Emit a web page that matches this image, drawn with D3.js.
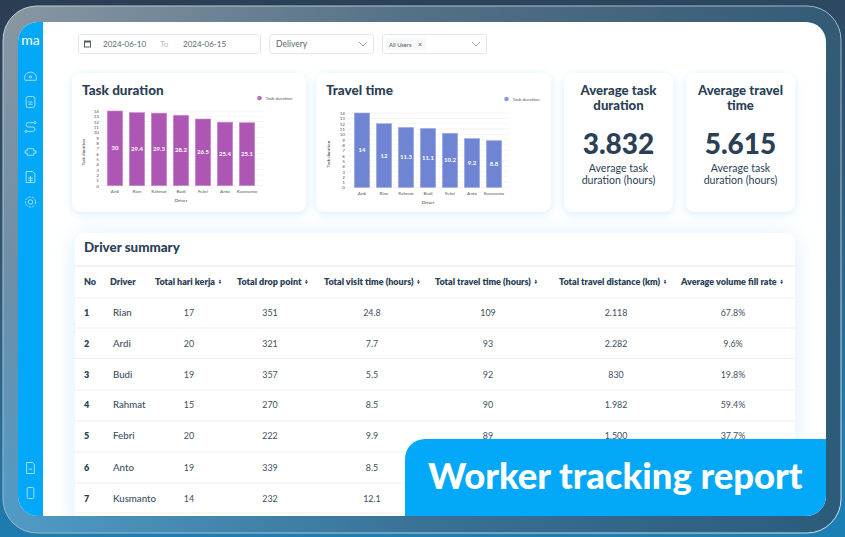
<!DOCTYPE html>
<html>
<head>
<meta charset="utf-8">
<script src="https://cdn.jsdelivr.net/npm/d3@7"></script>
<style>
html, body { margin: 0; padding: 0; background: #2b4a63; overflow: hidden; }
svg { display: block; }
text { font-family: "Lato", "Noto Sans", sans-serif; }
.axis path, .axis line { display: none; }
</style>
</head>
<body>
<svg id="main" width="845" height="537"></svg>
<script>
// Chart data
var drivers = ["Ardi", "Rian", "Rahmat", "Budi", "Febri", "Anto", "Kusmanto"];
var taskHeights = [14, 13.7, 13.6, 13.2, 12.5, 11.9, 11.8];
var taskLabels = ["30", "29.4", "29.3", "28.2", "26.5", "25.4", "25.1"];
var travelHeights = [14, 12, 11.3, 11.1, 10.2, 9.2, 8.8];
var travelLabels = ["14", "12", "11.3", "11.1", "10.2", "9.2", "8.8"];
var yTicks = [0, 1, 2, 3, 4, 5, 6, 7, 8, 9, 10, 11, 12, 13, 14];

// Table data
var tableHeaders = ["No", "Driver", "Total hari kerja", "Total drop point", "Total visit time (hours)", "Total travel time (hours)", "Total travel distance (km)", "Average volume fill rate"];
var rowNames = ["Rian", "Ardi", "Budi", "Rahmat", "Febri", "Anto", "Kusmanto"];
var rowDays = ["17", "20", "19", "15", "20", "19", "14"];
var rowDrops = ["351", "321", "357", "270", "222", "339", "232"];
var rowVisit = ["24.8", "7.7", "5.5", "8.5", "9.9", "8.5", "12.1"];
var rowTravel = ["109", "93", "92", "90", "89", "", ""];
var rowDistance = ["2.118", "2.282", "830", "1.982", "1.500", "", ""];
var rowFill = ["67.8%", "9.6%", "19.8%", "59.4%", "37.7%", "", ""];

var ink = "#2b3f55";
var svg = d3.select("#main");
var defs = svg.append("defs");

function gradient(id, x1, y1, x2, y2, stops) {
    var g = defs.append("linearGradient").attr("id", id)
        .attr("x1", x1).attr("y1", y1).attr("x2", x2).attr("y2", y2);
    stops.forEach(function(s) {
        g.append("stop").attr("offset", s[0]).attr("stop-color", s[1]).attr("stop-opacity", s[2] === undefined ? 1 : s[2]);
    });
}
gradient("bg", 0, 0, 0.2, 1, [[0, "#2a3d53"], [0.5, "#2e5a78"], [1, "#1c7fb4"]]);
gradient("frameLeft", 0, 0, 0, 1, [[0, "#8a97a3"], [0.5, "#6f8fa8"], [1, "#4f9cc8"]]);
gradient("frameRight", 0, 0, 1, 0, [[0, "#1f4f70", 0], [0.5, "#264f6c", 0.55], [1, "#24506e", 0.85]]);
gradient("frameLine", 0, 0, 1, 1, [[0, "#c4ccd2"], [0.5, "#9db4c4"], [1, "#d5dfe6"]]);

function glow(id, sd) {
    var f = defs.append("filter").attr("id", id)
        .attr("x", "-15%").attr("y", "-15%").attr("width", "130%").attr("height", "130%");
    f.append("feDropShadow").attr("dx", 0).attr("dy", 2).attr("stdDeviation", sd)
        .attr("flood-color", "#cfeaff").attr("flood-opacity", 0.8);
}
glow("glow", 5);
glow("glowWide", 11);

defs.append("clipPath").attr("id", "panelClip").append("rect")
    .attr("x", 18).attr("y", 22).attr("width", 808).attr("height", 494).attr("rx", 20);

// Background and frame
svg.append("rect").attr("width", 845).attr("height", 537).attr("fill", "url(#bg)");
svg.append("rect").attr("x", 3).attr("y", 6).attr("width", 838).attr("height", 527).attr("rx", 34)
    .attr("fill", "url(#frameLeft)");
svg.append("rect").attr("x", 3).attr("y", 6).attr("width", 838).attr("height", 527).attr("rx", 34)
    .attr("fill", "url(#frameRight)").attr("stroke", "url(#frameLine)").attr("stroke-width", 1);

// Panel
var panel = svg.append("g").attr("clip-path", "url(#panelClip)");
panel.append("rect").attr("x", 18).attr("y", 22).attr("width", 808).attr("height", 494).attr("fill", "#fff");

function box(x, y, w, h) {
    panel.append("rect").attr("x", x + 0.5).attr("y", y + 0.5).attr("width", w).attr("height", h).attr("rx", 3)
        .attr("fill", "#fff").attr("stroke", "#e3e6ea");
}
function label(x, y, str, size, color, anchor, weight) {
    return panel.append("text").attr("x", x).attr("y", y)
        .attr("text-anchor", anchor || "start")
        .attr("font-size", size).attr("font-weight", weight || 400)
        .attr("fill", color).text(str);
}
function chevron(x, y) {
    panel.append("path").attr("d", "M" + (x - 4) + "," + (y - 2) + " L" + x + "," + (y + 2) + " L" + (x + 4) + "," + (y - 2))
        .attr("fill", "none").attr("stroke", "#7b8794").attr("stroke-width", 0.8);
}
function card(x, y, w, h, filter) {
    panel.append("rect").attr("x", x).attr("y", y).attr("width", w).attr("height", h).attr("rx", 9)
        .attr("fill", "#fff").attr("filter", "url(#" + (filter || "glow") + ")");
}

// Table card goes first, so its wide glow sits under the rest
card(75, 233, 720, 300, "glowWide");

// Sidebar
panel.append("rect").attr("x", 18).attr("y", 22).attr("width", 25).attr("height", 494).attr("fill", "#03a9f8");
label(30.5, 44.5, "ma", 14, "#fff", "middle", 400);

var iconY = [77, 102, 127, 152, 177, 202, 468, 493];
iconY.forEach(function(y, i) {
    var g = panel.append("g").attr("transform", "translate(30.5," + y + ") scale(1.1)")
        .attr("fill", "none").attr("stroke", "#b5e4fb").attr("stroke-width", 0.8);
    if (i == 0) {
        g.append("path").attr("d", "M-5,3 A5.4,5.4 0 1 1 5,3 Z");
        g.append("circle").attr("r", 1);
    } else if (i == 1) {
        g.append("rect").attr("x", -4).attr("y", -5).attr("width", 8).attr("height", 10).attr("rx", 2);
        g.append("path").attr("d", "M-2,0 H2 M-2,2 H2");
    } else if (i == 2) {
        g.append("path").attr("d", "M3,-4 H-2 A2,2 0 0 0 -2,0 H2 A2,2 0 0 1 2,4 H-3");
        g.append("circle").attr("cx", 4).attr("cy", -4).attr("r", 1);
        g.append("circle").attr("cx", -4).attr("cy", 4).attr("r", 1);
    } else if (i == 3) {
        g.append("path").attr("d", "M-3,-3 H3 V-1 H5 V1 H3 V3 H-3 V1 H-5 V-1 H-3 Z");
    } else if (i == 4) {
        g.append("path").attr("d", "M-4,-5 H2 L4,-3 V5 H-4 Z M-2,1 H2 M-2,3 H2 M0,-1 V5");
    } else if (i == 5) {
        g.append("circle").attr("r", 2);
        g.append("circle").attr("r", 4.6).attr("stroke-dasharray", "2.2 1");
    } else if (i == 6) {
        g.append("path").attr("d", "M-3.5,-5 H2 L3.5,-3 V5 H-3.5 Z M-1.5,1 H1.5");
    } else {
        g.append("rect").attr("x", -3).attr("y", -5).attr("width", 6).attr("height", 10).attr("rx", 1);
    }
});

// Filter boxes
box(78, 34, 182, 19);
box(269, 34, 104, 19);
box(382, 34, 104, 19);
panel.append("rect").attr("x", 84.5).attr("y", 41).attr("width", 6).attr("height", 6)
    .attr("fill", "none").attr("stroke", "#56606b");
panel.append("rect").attr("x", 84.5).attr("y", 41).attr("width", 6).attr("height", 1.6).attr("fill", "#56606b");
label(103, 47, "2024-06-10", 8, "#5c6670");
label(160, 47, "To", 8, "#b9bec4");
label(183, 47, "2024-06-15", 8, "#5c6670");
label(276, 47, "Delivery", 8.5, "#5c6670");
chevron(363, 44);
panel.append("rect").attr("x", 386).attr("y", 38).attr("width", 40).attr("height", 12).attr("rx", 2).attr("fill", "#f6f7f8");
label(389, 46.5, "All Users", 5.8, "#4e5862");
label(418, 46.5, "×", 7, "#4e5862");
chevron(476, 44);

// Cards
card(72, 73, 234, 139);
card(316, 73, 235, 139);
card(564, 73, 109, 139);
card(686, 73, 109, 139);

// Bar chart
var yScale = d3.scaleLinear().domain([0, 14]);

function drawChart(cfg) {
    var g = panel.append("g");
    var y = yScale.copy().range([cfg.y0, cfg.y1]);
    var x = d3.scaleBand().domain(drivers).range(cfg.xRange).paddingInner(0.3).paddingOuter(0.15);

    g.append("text").attr("x", cfg.titleX).attr("y", 94.5)
        .attr("font-size", 13.5).attr("font-weight", 900).attr("fill", ink).text(cfg.title);

    // Grid
    g.selectAll(".grid").data(yTicks).enter().append("line")
        .attr("class", "grid")
        .attr("x1", cfg.gridX[0]).attr("x2", cfg.gridX[1])
        .attr("y1", function(d) { return y(d); })
        .attr("y2", function(d) { return y(d); })
        .attr("stroke", "#eeeeee").attr("stroke-width", 0.6);

    // Axes
    var yAxis = d3.axisLeft(y).tickValues(yTicks).tickSize(0).tickPadding(2);
    g.append("g").attr("class", "axis")
        .attr("transform", "translate(" + cfg.gridX[0] + ",0)")
        .call(yAxis)
        .selectAll("text").attr("font-size", 4.6).attr("fill", "#555").attr("font-family", "Lato");

    var xAxis = d3.axisBottom(x).tickSize(0).tickPadding(4.5);
    g.append("g").attr("class", "axis")
        .attr("transform", "translate(0," + cfg.y0 + ")")
        .call(xAxis)
        .selectAll("text").attr("font-size", 4.6).attr("fill", "#555").attr("font-family", "Lato");

    // Bars
    g.selectAll(".bar").data(cfg.heights).enter().append("rect")
        .attr("class", "bar")
        .attr("x", function(d, i) { return x(drivers[i]); })
        .attr("width", x.bandwidth())
        .attr("y", function(d) { return y(d); })
        .attr("height", function(d) { return cfg.y0 - y(d); })
        .attr("fill", cfg.color)
        .attr("stroke", cfg.edge).attr("stroke-width", 0.6);

    g.selectAll(".bar-label").data(cfg.labels).enter().append("text")
        .attr("class", "bar-label")
        .attr("x", function(d, i) { return x(drivers[i]) + x.bandwidth() / 2; })
        .attr("y", function(d, i) { return y(cfg.heights[i] / 2) + 2; })
        .attr("text-anchor", "middle")
        .attr("font-size", 6).attr("font-weight", 700).attr("fill", "#fff")
        .text(function(d) { return d; });

    // Axis titles
    g.append("text").attr("x", (cfg.xRange[0] + cfg.xRange[1]) / 2).attr("y", cfg.y0 + 16)
        .attr("text-anchor", "middle").attr("font-size", 4.6).attr("fill", "#333").text("Driver");
    g.append("text")
        .attr("transform", "translate(" + cfg.yTitleX + "," + ((cfg.y0 + cfg.y1) / 2 + 4) + ") rotate(-90)")
        .attr("text-anchor", "middle").attr("font-size", 4.6).attr("fill", "#333").text("Task duration");

    // Legend
    g.append("circle").attr("cx", cfg.legendX).attr("cy", cfg.legendY).attr("r", 2.3).attr("fill", cfg.legendColor);
    g.append("text").attr("x", cfg.legendX + 6).attr("y", cfg.legendY + 1.7)
        .attr("font-size", 4.6).attr("fill", "#555").text("Task duration");
}

drawChart({
    title: "Task duration", titleX: 82, heights: taskHeights, labels: taskLabels,
    y0: 185.7, y1: 111, xRange: [104, 258], gridX: [101, 263], yTitleX: 85,
    color: "#ae56b4", edge: "#c98ccd", legendColor: "#ba6cc0", legendX: 259.5, legendY: 98
});
drawChart({
    title: "Travel time", titleX: 326, heights: travelHeights, labels: travelLabels,
    y0: 187.5, y1: 113, xRange: [351, 505], gridX: [347, 509], yTitleX: 330,
    color: "#7084d4", edge: "#a3b0e4", legendColor: "#8b9be0", legendX: 506.5, legendY: 99
});

// KPI cards
function kpi(cx, titleLines, value) {
    label(cx, 94.5, titleLines[0], 13.2, ink, "middle", 900);
    label(cx, 110, titleLines[1], 13.2, ink, "middle", 900);
    label(cx, 154, value, 28, ink, "middle", 900);
    label(cx, 171.5, "Average task", 10.6, ink, "middle");
    label(cx, 184, "duration (hours)", 10.6, ink, "middle");
}
kpi(618.5, ["Average task", "duration"], "3.832");
kpi(740.5, ["Average travel", "time"], "5.615");

// Driver summary table
label(84, 252, "Driver summary", 13.4, ink, "start", 900);

var rowLines = [266, 298, 328, 358.5, 390, 421, 452, 483, 513];
rowLines.forEach(function(y, i) {
    panel.append("line").attr("x1", 75).attr("x2", 795).attr("y1", y).attr("y2", y)
        .attr("stroke", "#eceff1").attr("stroke-width", i == 0 ? 1.5 : 1);
});

// header: x start of each label
var headerX = [84, 110, 155, 237, 324, 435, 559, 681];
tableHeaders.forEach(function(h, i) {
    var t = label(headerX[i], 285, h, 9, ink, "start", 800);
    if (i > 1) {
        var w = t.node().getComputedTextLength();
        var ax = headerX[i] + w + 5;
        panel.append("path")
            .attr("d", "M" + ax + ",279.5 l1.4,1.9 h-2.8 z M" + ax + ",284 l1.4,-1.9 h-2.8 z")
            .attr("fill", ink);
    }
});

var rowY = [316, 347, 378, 408, 439, 471, 501.5];
var colCenters = [189, 270, 372, 488, 616, 733];
var colData = [rowDays, rowDrops, rowVisit, rowTravel, rowDistance, rowFill];
rowNames.forEach(function(name, r) {
    label(84, rowY[r], String(r + 1), 9, ink, "start", 800);
    label(113, rowY[r], name, 9.7, "#3d4e60", "start", 500);
    colData.forEach(function(col, c) {
        label(colCenters[c], rowY[r], col[r], 8.9, "#3d4e60", "middle");
    });
});

// Banner
panel.append("path")
    .attr("d", "M405,516 V459 A20,20 0 0 1 425,439 H826 V516 Z")
    .attr("fill", "#03a9f8");
label(428, 489, "Worker tracking report", 36.4, "#fff", "start", 900);
</script>
</body>
</html>
